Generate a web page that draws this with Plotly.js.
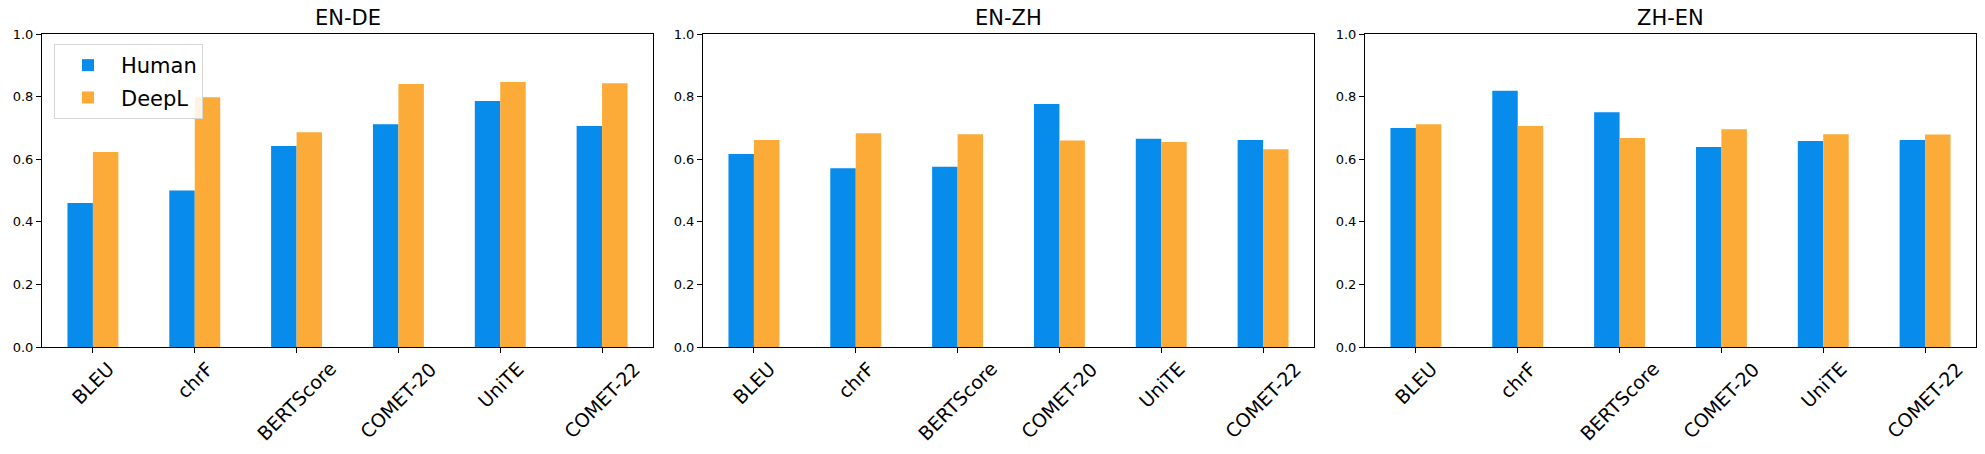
<!DOCTYPE html>
<html>
<head>
<meta charset="utf-8">
<script src="https://cdn.plot.ly/plotly-3.0.1.min.js"></script>
<style>
  html, body { margin: 0; padding: 0; background: #fff; }
  #chart { width: 1985px; height: 454px; }
</style>
</head>
<body>
<div id="chart"></div>
<script>
// metrics on the x axis
var metrics = ["BLEU", "chrF", "BERTScore", "COMET-20", "UniTE", "COMET-22"];
var pairs = ["EN-DE", "EN-ZH", "ZH-EN"];

// scores
var humanEnDe = [0.460, 0.500, 0.642, 0.712, 0.786, 0.706];
var deeplEnDe = [0.623, 0.798, 0.686, 0.840, 0.847, 0.843];

var humanEnZh = [0.617, 0.571, 0.576, 0.776, 0.665, 0.661];
var deeplEnZh = [0.661, 0.683, 0.680, 0.660, 0.655, 0.632];

var humanZhEn = [0.700, 0.819, 0.750, 0.639, 0.658, 0.661];
var deeplZhEn = [0.712, 0.706, 0.668, 0.696, 0.680, 0.679];

var blue = "#078cec";
var orange = "#fcab38";
var font = "DejaVu Sans, Arial, sans-serif";

var W = 1985, H = 454;
var humans = [humanEnDe, humanEnZh, humanZhEn];
var deepls = [deeplEnDe, deeplEnZh, deeplZhEn];

var data = [];
for (var i = 0; i < 3; i++) {
  var sfx = i === 0 ? "" : String(i + 1);
  data.push({
    type: "bar", name: "Human", x: metrics, y: humans[i],
    xaxis: "x" + sfx, yaxis: "y" + sfx,
    marker: { color: blue }, showlegend: i === 0, legendgroup: "h"
  });
  data.push({
    type: "bar", name: "DeepL", x: metrics, y: deepls[i],
    xaxis: "x" + sfx, yaxis: "y" + sfx,
    marker: { color: orange }, showlegend: i === 0, legendgroup: "d"
  });
}

// panel boxes in pixels (note: "top" is taken by window.top)
var lefts = [42, 703, 1365];
var panelW = 611;
var boxTop = 34, boxBottom = 347;

var layout = {
  width: W, height: H,
  margin: { l: 0, r: 0, t: 0, b: 0 },
  paper_bgcolor: "#fff", plot_bgcolor: "#fff",
  barmode: "group", bargap: 0.5, bargroupgap: 0,
  font: { family: font, color: "#000" },
  legend: {
    x: 54 / W, y: 1 - 44 / H, xanchor: "left", yanchor: "top",
    bgcolor: "rgba(255,255,255,0.85)", bordercolor: "#d6d6d6", borderwidth: 1,
    font: { size: 21, family: font }, itemwidth: 56, tracegroupgap: 2
  },
  annotations: []
};

for (var j = 0; j < 3; j++) {
  var s = j === 0 ? "" : String(j + 1);
  var dom = [lefts[j] / W, (lefts[j] + panelW) / W];
  layout["xaxis" + s] = {
    domain: dom, anchor: "y" + s,
    range: [-0.5, 5.5], type: "category",
    showline: true, mirror: true, linecolor: "#000", linewidth: 1,
    ticks: "outside", ticklen: 5, tickcolor: "#000",
    showticklabels: false,
    showgrid: false, zeroline: false, fixedrange: true
  };
  layout["yaxis" + s] = {
    domain: [1 - boxBottom / H, 1 - boxTop / H], anchor: "x" + s,
    range: [0, 1], dtick: 0.2, tickformat: ".1f",
    showline: true, mirror: true, linecolor: "#000", linewidth: 1,
    ticks: "outside", ticklen: 5, tickcolor: "#000",
    tickfont: { size: 13, family: font },
    showgrid: false, zeroline: false, fixedrange: true
  };
  layout.annotations.push({
    text: pairs[j], xref: "paper", yref: "paper",
    x: (lefts[j] + panelW / 2) / W, y: 1 - 18 / H,
    xanchor: "center", yanchor: "middle", showarrow: false,
    font: { size: 21, family: font }
  });
  // rotated tick labels centred under each tick, like matplotlib rotation=45
  metrics.forEach(function (m) {
    layout.annotations.push({
      text: m, xref: "x" + s, yref: "paper",
      x: m, y: 1 - 356 / H,
      xanchor: "center", yanchor: "top", textangle: -45,
      showarrow: false, borderpad: 0,
      font: { size: 19, family: font }
    });
  });
}

Plotly.newPlot("chart", data, layout, { displayModeBar: false, staticPlot: true });
</script>
</body>
</html>
